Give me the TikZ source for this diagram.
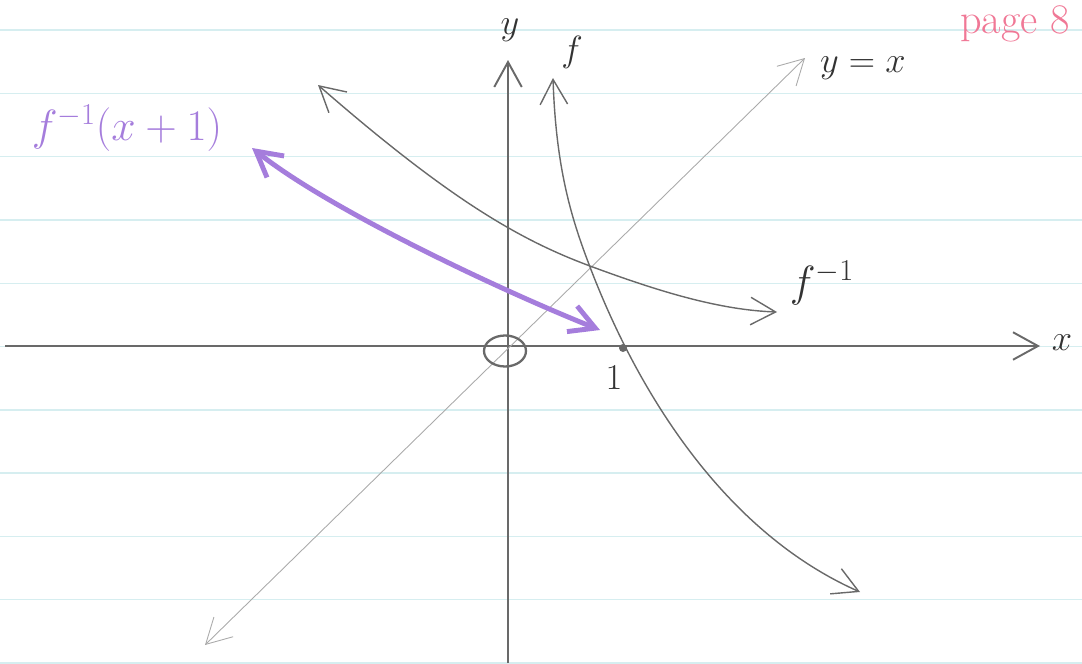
\documentclass[tikz,border=0pt]{standalone}
\usepackage{amsmath}
\usepackage{xcolor}
\usepackage{tikz}
\usetikzlibrary{arrows.meta,positioning,shapes.geometric}
\definecolor{pencil}{RGB}{105,105,105}
\definecolor{lightpencil}{RGB}{170,170,170}
\definecolor{lilac}{RGB}{165,125,220}
\definecolor{pinkpen}{RGB}{240,120,150}
\definecolor{ruling}{RGB}{214,238,240}
\tikzstyle{harrow}=[{Straight Barb[length=5mm,width=5.5mm]}-{Straight Barb[length=5mm,width=5.5mm]}]
\tikzstyle{tip}=[-{Straight Barb[length=5mm,width=5.5mm]}]

\begin{document}
\begin{tikzpicture}[x=0.02cm,y=-0.02cm,
  paper/.style={draw=ruling,line width=0.8pt},
  axis/.style={draw=pencil,line width=1.1pt},
  curve/.style={draw=pencil,line width=0.8pt},
  diag/.style={draw=lightpencil,line width=0.5pt},
  shifted/.style={draw=lilac,line width=2.8pt},
  lbl/.style={text=black!80,font=\fontsize{22}{26}\selectfont,inner sep=1pt}]

\useasboundingbox (0,0) rectangle (1082,663);
% ruled paper
\foreach \i in {0,...,10} {
  \draw[paper] (0,{30+63.3*\i}) -- (1082,{30+63.3*\i});
}
% axes
\coordinate (xl) at (5,346);
\coordinate (xr) at (1040,346);
\coordinate (yb) at (508,663);
\coordinate (yt) at (508,60);
\draw[axis,tip] (xl) -- (xr);
\draw[axis,tip] (yb) -- (yt);
\node[lbl] (xlab) at (1062,343) {$x$};
\node[lbl] (ylab) at (510,30) {$y$};
% line y = x
\coordinate (dl) at (205,645);
\coordinate (du) at (805,58);
\draw[diag,harrow] (dl) -- (du);
\node[lbl,anchor=west,font=\fontsize{20}{24}\selectfont] (dlab) at (818,68) {$y=x$};
% f
\coordinate (ft) at (553,78);
\coordinate (fb) at (860,592);
\draw[curve,harrow] (ft) .. controls (556,170) and (572,220) .. (590,267)
  .. controls (635,385) and (720,530) .. (fb);
\node[lbl] (flab) at (572,52) {$f$};
% inverse of f
\coordinate (gl) at (318,85);
\coordinate (gr) at (777,312);
\draw[curve,harrow] (gl) .. controls (450,200) and (520,240) .. (590,266)
  .. controls (660,292) and (720,310) .. (gr);
\node[lbl,font=\fontsize{25}{28}\selectfont] (finvlab) at (822,283) {$f^{-1}$};
% f^{-1}(x+1)
\coordinate (hl) at (252,148);
\coordinate (hr) at (600,330);
\draw[shifted,harrow] (hl) .. controls (330,210) and (500,290) .. (hr);
\node[lbl,text=lilac,font=\fontsize{24}{28}\selectfont] (shlab) at (127,128) {$f^{-1}(x+1)$};
% origin and intercept
\node[ellipse,draw=pencil,line width=1.3pt,minimum width=0.84cm,minimum height=0.62cm,inner sep=0pt] (orig) at (505,351) {};
\fill[pencil] (623,348) circle (4);
\node[lbl] (one) at (614,378) {$1$};
% page number
\node[anchor=east,text=pinkpen,font=\fontsize{24}{28}\selectfont] (page) at (1076,24) {page 8};
\end{tikzpicture}
\end{document}
